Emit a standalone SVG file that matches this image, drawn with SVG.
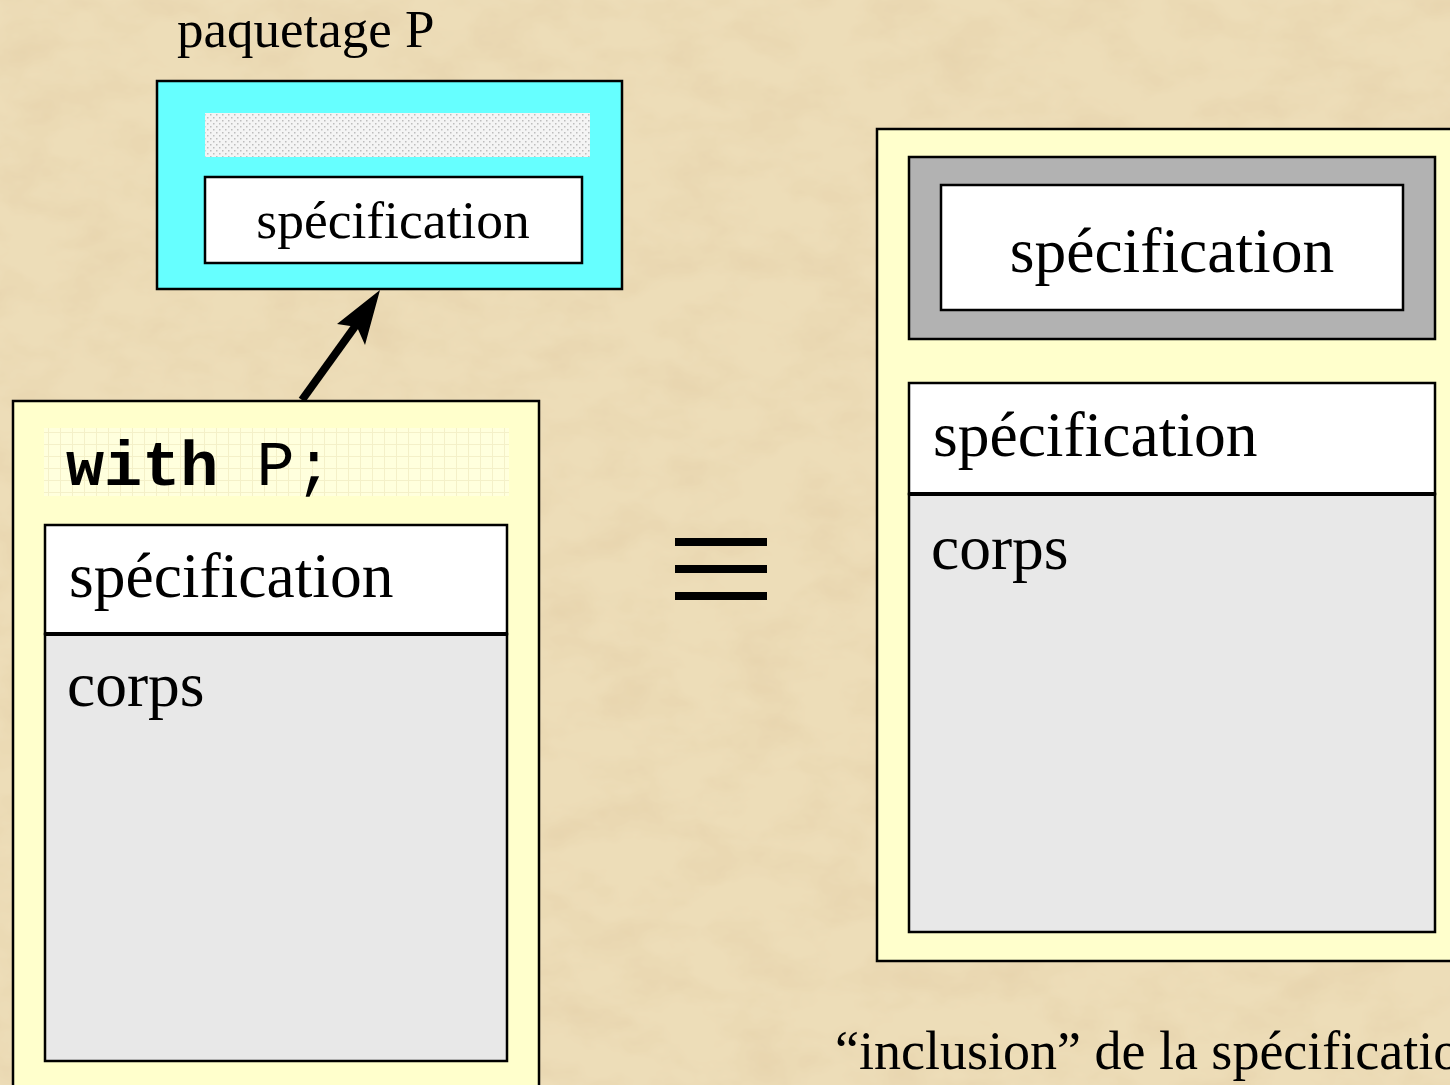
<svg xmlns="http://www.w3.org/2000/svg" width="1450" height="1085" viewBox="0 0 1450 1085">
<defs>
<style>
.serif{font-family:"Liberation Serif","Times New Roman",serif;fill:#000}
.mono{font-family:"Liberation Mono","Courier New",monospace;fill:#000}
.box{stroke:#000;stroke-width:2.5}
.yellow{fill:#FFFFCC}
.white{fill:#FFFFFF}
.body{fill:#E8E8E8}
</style>
<pattern id="dots" width="6" height="6" patternUnits="userSpaceOnUse">
<rect width="6" height="6" fill="#F4F4F4"/>
<rect x="0" y="0" width="1.5" height="1.5" fill="#BDBDBD"/>
<rect x="3" y="3" width="1.5" height="1.5" fill="#BDBDBD"/>
</pattern>
<pattern id="grid" width="12" height="12" patternUnits="userSpaceOnUse">
<rect width="12" height="12" fill="#FFFFDD"/>
<path d="M0 0.5H12M0.5 0V12" stroke="#F4F0C8" stroke-width="1"/>
</pattern>
<filter id="paper" x="0" y="0" width="100%" height="100%">
<feTurbulence type="fractalNoise" baseFrequency="0.015 0.025" numOctaves="4" seed="3" result="n"/>
<feColorMatrix in="n" type="matrix" values="0 0 0 0 0.80  0 0 0 0 0.66  0 0 0 0 0.42  0 0 0 1.8 -0.7" result="c"/>
<feComposite in="c" in2="SourceGraphic" operator="over"/>
</filter>
</defs>
<rect id="background" x="0" y="0" width="1450" height="1085" fill="#EDDDB8" filter="url(#paper)"/>

<text class="serif" x="177" y="47" font-size="53">paquetage P</text>

<g id="package-P">
<rect class="box" x="157" y="81" width="465" height="208" fill="#66FFFF"/>
<rect x="205" y="113" width="385" height="44" fill="url(#dots)"/>
<rect class="box white" x="205" y="177" width="377" height="86"/>
<text class="serif" x="393" y="238" font-size="53.5" text-anchor="middle">spécification</text>
</g>

<g id="connectors">
<line x1="302" y1="400" x2="364" y2="314" stroke="#000" stroke-width="8"/>
<polygon points="380,290 365,345 357,327 337,324" fill="#000"/>
</g>

<g id="client-unit">
<rect class="box yellow" x="13" y="401" width="526" height="700"/>
<rect x="44" y="428" width="465" height="68" fill="url(#grid)"/>
<text class="mono" x="66" y="485" font-size="63.5"><tspan font-weight="bold">with</tspan> P;</text>
<rect class="box body" x="45" y="634" width="462" height="427"/>
<rect class="box white" x="45" y="525" width="462" height="109"/>
<line x1="45" y1="634" x2="507" y2="634" stroke="#000" stroke-width="4"/>
<text class="serif" x="69" y="597" font-size="63.5">spécification</text>
<text class="serif" x="67" y="706" font-size="63.5">corps</text>
</g>

<g id="equivalence">
<rect x="675" y="538" width="92" height="8" fill="#000"/>
<rect x="675" y="565" width="92" height="8" fill="#000"/>
<rect x="675" y="592" width="92" height="8" fill="#000"/>
</g>

<g id="expanded-unit">
<rect class="box yellow" x="877" y="129" width="600" height="832"/>
<rect class="box" x="909" y="157" width="526" height="182" fill="#B2B2B2"/>
<rect class="box white" x="941" y="185" width="462" height="125"/>
<text class="serif" x="1172" y="272" font-size="63.5" text-anchor="middle">spécification</text>
<rect class="box body" x="909" y="494" width="526" height="438"/>
<rect class="box white" x="909" y="383" width="526" height="111"/>
<line x1="909" y1="494" x2="1435" y2="494" stroke="#000" stroke-width="4"/>
<text class="serif" x="933" y="456" font-size="63.5">spécification</text>
<text class="serif" x="931" y="569" font-size="63.5">corps</text>
</g>

<text class="serif" x="835" y="1069" font-size="54">“inclusion” de la spécification</text>
</svg>
